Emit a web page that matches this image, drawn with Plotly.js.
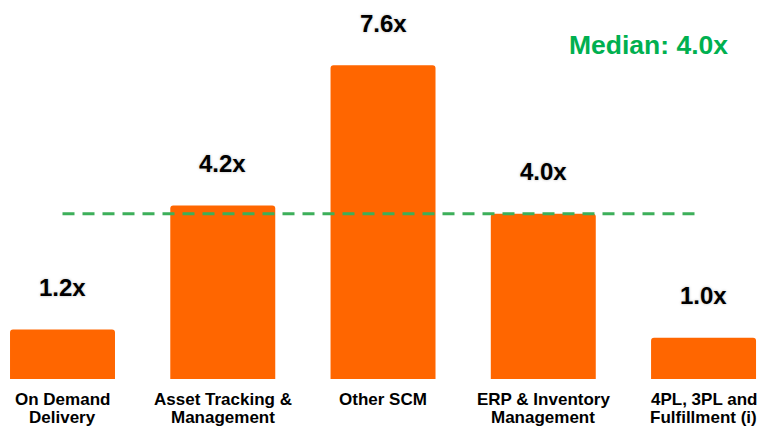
<!DOCTYPE html>
<html><head><meta charset="utf-8">
<script src="https://cdn.plot.ly/plotly-3.0.1.min.js"></script>
<style>html,body{margin:0;padding:0;background:#fff}#c{width:759px;height:428px}</style>
</head><body><div id="c"></div>
<script>
const categories = ["On Demand<br>Delivery", "Asset Tracking &<br>Management", "Other SCM", "ERP & Inventory<br>Management", "4PL, 3PL and<br>Fulfillment (i)"];
const multiples = [1.2, 4.2, 7.6, 4.0, 1.0];
const valueLabels = ["1.2x", "4.2x", "7.6x", "4.0x", "1.0x"];
const median = 4.0;
const medianLabel = "Median: 4.0x";

const FONT = 'Liberation Sans, Arial, sans-serif';
const xs = categories.map((_, i) => i);
const annotations = xs.map((x, i) => ({
  x: x, y: multiples[i], xref: 'x', yref: 'y', text: valueLabels[i], showarrow: false,
  yanchor: 'middle', yshift: 42,
  font: {family: FONT, size: 24, color: '#000', weight: 'bold', shadow: '0px 0px 3px #bbb'}
}));
// category labels, one annotation per line for tight line spacing
categories.forEach((c, i) => {
  c.split('<br>').forEach((line, k) => {
    annotations.push({
      x: i, y: 0, xref: 'x', yref: 'y', text: line, showarrow: false,
      yanchor: 'middle', xanchor: 'center', yshift: -20 - 18.5 * k,
      font: {family: FONT, size: 17, color: '#000', weight: 'bold'}
    });
  });
});
annotations.push({
  x: 0.855, y: 0.881, xref: 'paper', yref: 'paper', text: medianLabel, showarrow: false,
  xanchor: 'center', yanchor: 'middle',
  font: {family: FONT, size: 26.5, color: '#00B050', weight: 'bold'}
});

Plotly.newPlot('c', [{
  type: 'bar', x: xs, y: multiples, width: 0.655,
  marker: {color: '#FF6600', cornerradius: 3},
  hoverinfo: 'none'
}], {
  width: 759, height: 428,
  margin: {l: 0, r: 0, t: 0, b: 49},
  paper_bgcolor: '#fff', plot_bgcolor: '#fff',
  showlegend: false,
  xaxis: {
    range: [-0.39, 4.346], tickvals: xs, showticklabels: false,
    showgrid: false, zeroline: false, showline: false, ticks: ''
  },
  yaxis: {range: [0, 9.18], visible: false, showgrid: false, zeroline: false},
  shapes: [{
    type: 'line', xref: 'x', yref: 'y', x0: 0, x1: 3.96, y0: median, y1: median,
    line: {color: '#3DAF5A', width: 3, dash: '12px,8px'}
  }],
  annotations: annotations
}, {displayModeBar: false, staticPlot: true});
</script></body></html>
